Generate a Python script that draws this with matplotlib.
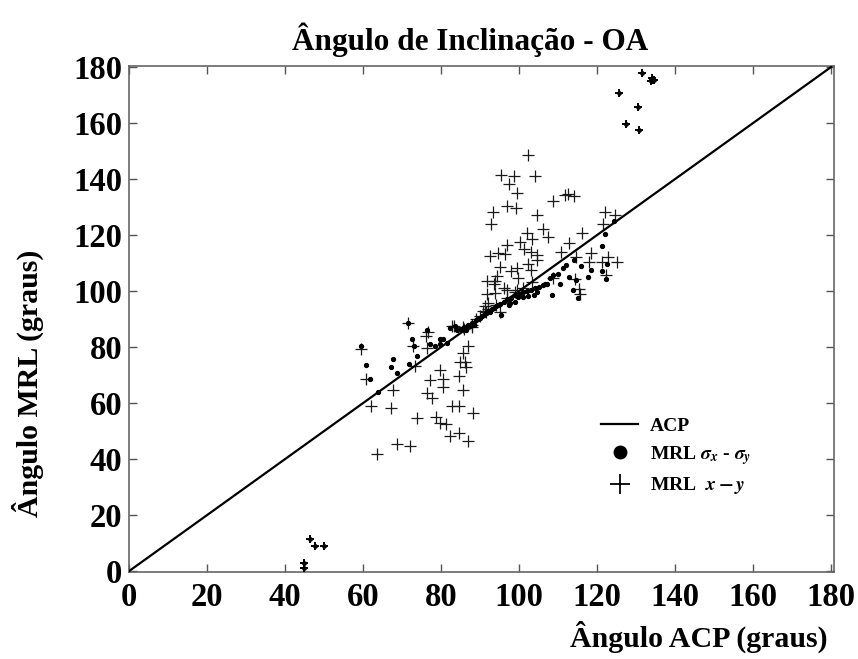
import matplotlib
matplotlib.use("Agg")
import matplotlib.pyplot as plt
from matplotlib.lines import Line2D

plt.rcParams["font.family"] = ["Liberation Serif", "DejaVu Serif"]
plt.rcParams["font.weight"] = "bold"
plt.rcParams["mathtext.fontset"] = "stix"

TITLE = "Ângulo de Inclinação - OA"
X_LABEL = "Ângulo ACP (graus)"
Y_LABEL = "Ângulo MRL (graus)"
TICKS = [0, 20, 40, 60, 80, 100, 120, 140, 160, 180]

# ACP reference line (y = x)
acp_x = [0, 180]
acp_y = [0, 180]

# MRL x - y (plus markers)
plus_x = [
    102.4, 95.3, 98.7, 104.0, 97.5, 99.5, 108.6, 111.8, 112.6, 114.1,
    96.8, 99.1, 93.3, 92.7, 104.7, 102.1, 106.2, 107.3, 103.3, 116.2,
    100.1, 112.9, 96.8, 122.1, 124.6, 121.4, 110.7, 118.4, 114.6, 122.9,
    117.8, 121.2, 125.1, 122.3, 114.2, 115.3, 115.6, 92.6, 94.5, 96.4,
    101.3, 103.1, 104.5, 104.5, 95.1, 97.9, 99.4, 102.4, 103.1, 94.4,
    99.8, 91.7, 93.8, 93.6, 96.2, 97.0, 103.3, 108.8, 93.8, 91.7,
    99.4, 92.1, 91.3, 90.8, 95.1, 87.9, 85.7, 83.2, 76.7, 71.4,
    59.4, 72.7, 76.2, 76.5, 82.7, 87.0, 85.6, 84.9, 86.2, 86.4,
    73.3, 79.6, 84.5, 60.8, 77.2, 80.6, 80.5, 67.8, 85.7, 76.5,
    77.7, 62.0, 67.2, 82.7, 84.6, 88.1, 73.9, 78.7, 79.7, 81.2,
    82.3, 84.6, 87.0, 68.6, 72.1, 63.5,
    86.0, 88.0, 89.0, 90.0, 91.5, 92.0, 94.0, 97.0, 99.0, 101.0,
]
plus_y = [
    148.6, 141.4, 141.2, 141.1, 138.2, 135.0, 132.1, 134.3, 134.5, 133.9,
    130.3, 129.8, 128.3, 123.8, 127.0, 120.7, 122.0, 119.2, 118.5, 120.7,
    117.5, 117.1, 116.4, 128.3, 127.1, 123.9, 114.0, 113.7, 112.0, 112.0,
    110.3, 110.3, 110.3, 105.7, 104.2, 100.6, 98.8, 112.5, 113.7, 113.2,
    114.9, 114.0, 112.9, 111.1, 108.5, 107.3, 108.1, 109.6, 107.5, 105.4,
    104.5, 103.7, 103.7, 102.4, 101.2, 100.4, 103.3, 104.5, 99.4, 98.8,
    100.4, 95.6, 94.6, 92.9, 92.6, 87.0, 87.0, 87.5, 85.5, 88.5,
    79.2, 80.4, 83.9, 79.8, 87.5, 80.4, 77.7, 74.8, 74.5, 72.8,
    73.2, 71.8, 69.6, 68.5, 68.2, 68.5, 65.9, 64.8, 64.8, 63.6,
    61.7, 58.8, 58.2, 58.8, 58.9, 56.5, 54.5, 54.9, 52.8, 52.4,
    48.2, 49.2, 46.3, 45.3, 44.8, 41.8,
    86.5, 88.0, 90.0, 91.0, 92.6, 93.5, 95.0, 97.5, 99.5, 101.0,
]

# MRL sigma_x - sigma_y (dot markers)
dot_x = [
    124.4, 121.9, 121.2, 114.1, 112.1, 111.2, 115.9, 122.5, 118.4, 121.2,
    112.9, 114.5, 117.6, 122.2, 110.5, 113.9, 115.2, 108.6, 106.7, 107.1,
    104.5, 103.7, 102.4, 101.1, 108.4, 99.7, 99.0, 97.7, 97.3, 95.4,
    76.3, 79.7, 80.6, 59.4, 60.7, 61.8, 63.8, 67.1, 67.8, 68.6,
    71.8, 73.8, 72.5, 73.1, 77.2, 78.5, 79.6, 81.6, 82.3, 83.6,
    71.4,
    84.0, 85.0, 86.0, 86.5, 87.0, 87.5, 88.0, 88.5, 89.0, 89.5,
    90.0, 90.5, 91.0, 91.5, 92.0, 92.5, 93.0, 93.5, 94.0, 94.5,
    95.0, 96.0, 97.0, 98.0, 99.0, 100.0, 101.0, 102.0, 103.0, 104.0,
    105.0, 106.0, 108.0, 110.0,
]
dot_y = [
    125.1, 120.3, 116.1, 111.1, 109.3, 108.3, 109.0, 109.6, 107.5, 107.1,
    105.1, 103.9, 104.9, 104.2, 102.5, 100.4, 97.4, 105.7, 102.4, 102.4,
    99.5, 98.6, 98.2, 97.8, 98.6, 98.0, 96.2, 95.8, 95.0, 91.4,
    86.1, 82.8, 82.8, 80.4, 73.5, 68.6, 64.0, 73.0, 75.6, 70.9,
    74.0, 76.8, 83.0, 80.5, 81.1, 80.5, 81.1, 81.5, 86.7, 87.5,
    88.5,
    86.0, 86.5, 87.0, 86.0, 88.0, 87.5, 88.5, 88.0, 89.5, 90.0,
    90.5, 91.0, 91.5, 92.0, 93.0, 92.5, 93.5, 94.0, 94.5, 95.0,
    95.5, 96.0, 97.0, 97.5, 98.5, 99.0, 99.5, 100.0, 100.5, 101.0,
    101.5, 102.0, 104.5, 106.0,
]

# points where both MRL estimates coincide
both_x = [44.9, 44.9, 46.4, 47.7, 50.0, 125.5, 127.4, 130.4, 130.8, 131.5, 133.8, 134.1, 134.3, 134.6]
both_y = [1.1, 2.9, 11.4, 8.9, 8.9, 170.6, 159.5, 165.8, 157.3, 178.0, 175.0, 176.1, 175.4, 175.4]

fig = plt.figure(figsize=(8.58, 6.59), dpi=100)
ax = fig.add_axes([0.1503, 0.132, 0.8217, 0.7686])

ax.plot(acp_x, acp_y, color="black", linewidth=1.6, zorder=3)
ax.plot(plus_x, plus_y, linestyle="none", marker="+", markersize=9,
        markeredgewidth=0.9, color="#1a1a1a", zorder=2)
ax.plot(dot_x, dot_y, linestyle="none", marker="o", markersize=2.8,
        color="black", zorder=4)
ax.plot(both_x, both_y, linestyle="none", marker="+", markersize=6,
        markeredgewidth=1.4, color="black", zorder=4)
ax.plot(both_x, both_y, linestyle="none", marker="o", markersize=2.4,
        color="black", zorder=4)

ax.set_xlim(0, 180.7)
ax.set_ylim(-0.3, 180.5)
ax.set_xticks(TICKS)
ax.set_yticks(TICKS)
ax.tick_params(direction="in", length=6, width=1, top=True, right=True,
               labelsize=23.5, color="#555555")
ax.tick_params(axis="x", pad=7)
ax.tick_params(axis="y", pad=5)
for label in ax.get_xticklabels() + ax.get_yticklabels():
    label.set_fontweight("bold")
for spine in ax.spines.values():
    spine.set_color("#666666")
    spine.set_linewidth(1.2)

handles = [
    Line2D([], [], color="black", linewidth=1.6),
    Line2D([], [], linestyle="none", marker="o", markersize=9, color="black"),
    Line2D([], [], linestyle="none", marker="+", markersize=14,
           markeredgewidth=1.3, color="black"),
]
labels = ["ACP", r"MRL $\sigma_x$ - $\sigma_y$", r"MRL  $x - y$"]
ax.legend(handles, labels, loc="upper left", bbox_to_anchor=(0.645, 0.34),
          frameon=False, handlelength=1.9, handletextpad=0.6,
          labelspacing=0.45, prop={"size": 14, "weight": "bold"})

fig.text(0.548, 1 - 40 / 659, TITLE, ha="center", va="center",
         fontsize=22.5, fontweight="bold")
fig.text(0.815, 1 - 637 / 659, X_LABEL, ha="center", va="center",
         fontsize=21.5, fontweight="bold")
fig.text(0.033, 1 - 383 / 659, Y_LABEL, ha="center", va="center",
         rotation=90, fontsize=21.5, fontweight="bold")

fig.savefig("out.png", dpi=100)
